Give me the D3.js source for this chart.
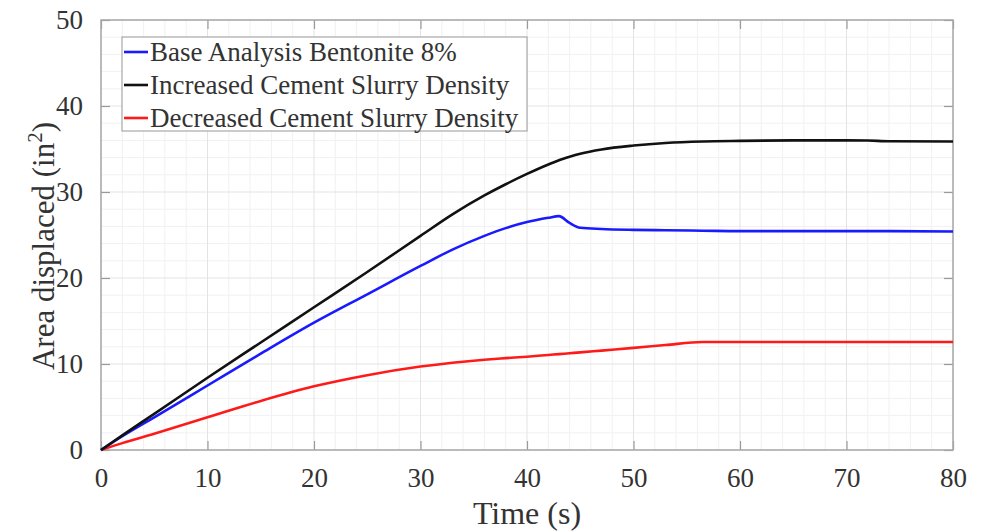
<!DOCTYPE html>
<html>
<head>
<meta charset="utf-8">
<script src="https://cdn.jsdelivr.net/npm/d3@7"></script>
<style>
  body { margin: 0; background: #fff; }
  svg { display: block; font-family: "Liberation Serif", "Times New Roman", serif; }
</style>
</head>
<body>
<script>
// time samples (s)
var time = [0, 2, 5, 10, 15, 20, 25, 30, 33, 36, 38, 40, 42, 43, 44, 45, 47, 50, 53, 56.5, 60, 65, 70, 72, 74, 80];

// area displaced (in^2) for each case
var baseBentonite = [0, 1.6, 3.8, 7.5, 11.2, 14.8, 18.1, 21.4, 23.3, 24.9, 25.8, 26.5, 27.0, 27.2, 26.4, 25.85, 25.7, 25.6, 25.55, 25.5, 25.45, 25.45, 25.45, 25.45, 25.45, 25.4];
var increasedDensity = [0, 1.7, 4.2, 8.4, 12.5, 16.6, 20.7, 24.9, 27.4, 29.6, 30.9, 32.1, 33.2, 33.7, 34.1, 34.45, 34.95, 35.4, 35.7, 35.88, 35.95, 36.0, 36.0, 35.98, 35.9, 35.88];
var decreasedDensity = [0, 0.8, 1.9, 3.8, 5.7, 7.4, 8.7, 9.7, 10.15, 10.5, 10.68, 10.85, 11.05, 11.15, 11.25, 11.35, 11.56, 11.87, 12.2, 12.55, 12.55, 12.55, 12.55, 12.55, 12.55, 12.55];

var seriesNames = ["Base Analysis Bentonite 8%", "Increased Cement Slurry Density", "Decreased Cement Slurry Density"];
var seriesColors = ["#1a1aff", "#111111", "#ff1a1a"];

var xTicks = [0, 10, 20, 30, 40, 50, 60, 70, 80];
var yTicks = [0, 10, 20, 30, 40, 50];

var width = 982, height = 532;
var margin = { top: 20, right: 29, bottom: 82, left: 101 };

var svg = d3.select("body").append("svg")
    .attr("width", width)
    .attr("height", height);

var x = d3.scaleLinear().domain([0, 80]).range([margin.left, width - margin.right]);
var y = d3.scaleLinear().domain([0, 50]).range([height - margin.bottom, margin.top]);

// minor grid every 2 units
var xMinor = d3.range(0, 80.01, 2).filter(function (d) { return d % 10 !== 0; });
var yMinor = d3.range(0, 50.01, 2).filter(function (d) { return d % 10 !== 0; });

var grid = svg.append("g");
grid.selectAll(".xminor").data(xMinor).enter().append("line")
    .attr("x1", function (d) { return x(d); }).attr("x2", function (d) { return x(d); })
    .attr("y1", y(0)).attr("y2", y(50))
    .attr("stroke", "#f1f1f1").attr("stroke-width", 1);
grid.selectAll(".yminor").data(yMinor).enter().append("line")
    .attr("y1", function (d) { return y(d); }).attr("y2", function (d) { return y(d); })
    .attr("x1", x(0)).attr("x2", x(80))
    .attr("stroke", "#f1f1f1").attr("stroke-width", 1);
grid.selectAll(".xmajor").data(xTicks).enter().append("line")
    .attr("x1", function (d) { return x(d); }).attr("x2", function (d) { return x(d); })
    .attr("y1", y(0)).attr("y2", y(50))
    .attr("stroke", "#e3e3e3").attr("stroke-width", 1);
grid.selectAll(".ymajor").data(yTicks).enter().append("line")
    .attr("y1", function (d) { return y(d); }).attr("y2", function (d) { return y(d); })
    .attr("x1", x(0)).attr("x2", x(80))
    .attr("stroke", "#e3e3e3").attr("stroke-width", 1);

// axes, ticks pointing inward like matlab
var tickLen = 9;
function styleAxis(g) {
    g.select(".domain").remove();
    g.selectAll(".tick line").attr("stroke", "#9a9a9a").attr("stroke-width", 1.2);
    g.selectAll(".tick text").attr("fill", "#333").style("font-size", "27px")
        .style("font-family", "'Liberation Serif', 'Times New Roman', serif");
}

svg.append("g")
    .attr("transform", "translate(0," + y(0) + ")")
    .call(d3.axisBottom(x).tickValues(xTicks).tickSizeInner(-tickLen).tickSizeOuter(0).tickPadding(18))
    .call(styleAxis);
svg.append("g")
    .attr("transform", "translate(0," + y(50) + ")")
    .call(d3.axisTop(x).tickValues(xTicks).tickSizeInner(-tickLen).tickSizeOuter(0).tickFormat(""))
    .call(styleAxis);
svg.append("g")
    .attr("transform", "translate(" + x(0) + ",0)")
    .call(d3.axisLeft(y).tickValues(yTicks).tickSizeInner(-tickLen).tickSizeOuter(0).tickPadding(18))
    .call(styleAxis);
svg.append("g")
    .attr("transform", "translate(" + x(80) + ",0)")
    .call(d3.axisRight(y).tickValues(yTicks).tickSizeInner(-tickLen).tickSizeOuter(0).tickFormat(""))
    .call(styleAxis);

// box
svg.append("rect")
    .attr("x", x(0)).attr("y", y(50))
    .attr("width", x(80) - x(0)).attr("height", y(0) - y(50))
    .attr("fill", "none").attr("stroke", "#a8a8a8").attr("stroke-width", 1.5);

// lines
var allSeries = [baseBentonite, increasedDensity, decreasedDensity];
var line = d3.line()
    .x(function (d) { return x(d[0]); })
    .y(function (d) { return y(d[1]); })
    .curve(d3.curveMonotoneX);

// draw red first, then blue, black on top
[2, 0, 1].forEach(function (i) {
    svg.append("path")
        .datum(d3.zip(time, allSeries[i]))
        .attr("d", line)
        .attr("fill", "none")
        .attr("stroke", seriesColors[i])
        .attr("stroke-width", 2.6)
        .attr("stroke-linejoin", "round");
});

// axis labels
svg.append("text")
    .attr("x", (x(0) + x(80)) / 2)
    .attr("y", 524)
    .attr("text-anchor", "middle")
    .attr("fill", "#333")
    .style("font-size", "32px")
    .text("Time (s)");

var yl = svg.append("text")
    .attr("transform", "translate(54,246) rotate(-90)")
    .attr("text-anchor", "middle")
    .attr("fill", "#333")
    .style("font-size", "31px");
yl.append("tspan").text("Area displaced (in");
yl.append("tspan").attr("dy", -12).style("font-size", "21px").text("2");
yl.append("tspan").attr("dy", 12).text(")");

// legend
var legend = svg.append("g");
legend.append("rect")
    .attr("x", 122).attr("y", 37)
    .attr("width", 405).attr("height", 94)
    .attr("fill", "#fff").attr("stroke", "#a8a8a8").attr("stroke-width", 1.2);

var rows = legend.selectAll(".row").data(seriesNames).enter().append("g")
    .attr("transform", function (d, i) { return "translate(0," + (52 + i * 33) + ")"; });
rows.append("line")
    .attr("x1", 124).attr("x2", 148)
    .attr("stroke", function (d, i) { return seriesColors[i]; })
    .attr("stroke-width", 2.6);
rows.append("text")
    .attr("x", 150).attr("dy", "0.35em")
    .attr("fill", "#333")
    .style("font-size", "27px")
    .text(function (d) { return d; });
</script>
</body>
</html>
